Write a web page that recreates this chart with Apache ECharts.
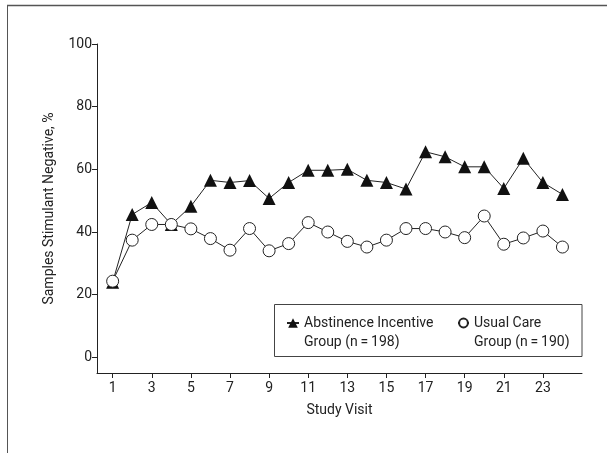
<!DOCTYPE html>
<html><head><meta charset="utf-8">
<script src="https://cdn.jsdelivr.net/npm/echarts@6/dist/echarts.min.js"></script>
<style>html,body{margin:0;padding:0;background:#fff}#c{width:607px;height:453px}</style>
</head><body><div id="c"></div>
<script>
var visits = [1,2,3,4,5,6,7,8,9,10,11,12,13,14,15,16,17,18,19,20,21,22,23,24];
var abstinence = [24, 45.6, 49.4, 42.4, 48.2, 56.5, 55.8, 56.4, 50.7, 55.8, 59.7, 59.7, 60, 56.5, 55.8, 53.7, 65.6, 64, 60.8, 60.8, 53.9, 63.5, 55.8, 52];
var usualCare = [24.3, 37.4, 42.4, 42.4, 41, 37.9, 34.2, 41.1, 34, 36.3, 43, 40, 37, 35.2, 37.4, 41.1, 41.1, 40, 38.2, 45.1, 36.1, 38.1, 40.3, 35.2];
var xTicks = [1,3,5,7,9,11,13,15,17,19,21,23];
var yTicks = [0,20,40,60,80,100];
var names = ['Abstinence Incentive\nGroup (n\u2009=\u2009198)', 'Usual Care\nGroup (n\u2009=\u2009190)'];

var FONT = 'Roboto, "Liberation Sans", sans-serif';
function pairs(v){ return visits.map(function(x,i){ return [x, v[i]]; }); }

var chart = echarts.init(document.getElementById('c'), null, {renderer:'canvas'});
var legendText = {fontFamily: FONT, fontSize: 14, color: '#222', lineHeight: 19};
function legendFmt(n){ return ' \n' + n; }
chart.setOption({
  animation: false,
  textStyle: {fontFamily: FONT},
  grid: {left: 97, right: 25, top: 44, bottom: 80},
  xAxis: {
    type: 'value', min: 0.2, max: 25,
    name: 'Study Visit', nameLocation: 'middle', nameGap: 30,
    nameTextStyle: {fontFamily: FONT, fontSize: 14, color: '#222'},
    axisLine: {show: true, onZero: false, lineStyle: {color: '#222', width: 1}},
    axisTick: {show: true, length: 5, customValues: xTicks, lineStyle: {color: '#222'}},
    axisLabel: {customValues: xTicks, fontFamily: FONT, fontSize: 14, color: '#222', margin: 8},
    splitLine: {show: false}
  },
  yAxis: {
    type: 'value', min: -5, max: 100,
    name: 'Samples Stimulant Negative, %', nameLocation: 'middle', nameGap: 41,
    nameTextStyle: {fontFamily: FONT, fontSize: 14, color: '#222'},
    axisLine: {show: true, onZero: false, lineStyle: {color: '#222', width: 1}},
    axisTick: {show: true, length: 5, customValues: yTicks, lineStyle: {color: '#222'}},
    axisLabel: {customValues: yTicks, fontFamily: FONT, fontSize: 14, color: '#222', margin: 5},
    splitLine: {show: false}
  },
  legend: [
    {data: [names[0]], left: 286, top: 294.5, padding: 0, itemWidth: 12, itemHeight: 12, itemGap: 0, textStyle: legendText, formatter: legendFmt, selectedMode: false},
    {data: [names[1]], left: 457, top: 294.5, padding: 0, itemWidth: 11, itemHeight: 11, itemGap: 0, textStyle: legendText, formatter: legendFmt, selectedMode: false}
  ],
  graphic: [
    {type: 'line', shape: {x1: 7, y1: 5.5, x2: 607, y2: 5.5}, style: {stroke: '#555', lineWidth: 1.5}, silent: true},
    {type: 'line', shape: {x1: 7.5, y1: 5, x2: 7.5, y2: 453}, style: {stroke: '#555', lineWidth: 1}, silent: true},
    {type: 'rect', shape: {x: 274.5, y: 304.5, width: 307.5, height: 52}, style: {fill: '#fff', stroke: '#444', lineWidth: 1}, z: 0, silent: true}
  ],
  series: [
    {name: names[0], type: 'line', data: pairs(abstinence), symbol: 'triangle', symbolSize: 13,
     lineStyle: {color: '#222', width: 1}, itemStyle: {color: '#111', borderColor: '#111', borderWidth: 0}, z: 3},
    {name: names[1], type: 'line', data: pairs(usualCare), symbol: 'circle', symbolSize: 12,
     lineStyle: {color: '#222', width: 1}, itemStyle: {color: '#fff', borderColor: '#222', borderWidth: 1}, z: 4}
  ]
});
</script></body></html>
